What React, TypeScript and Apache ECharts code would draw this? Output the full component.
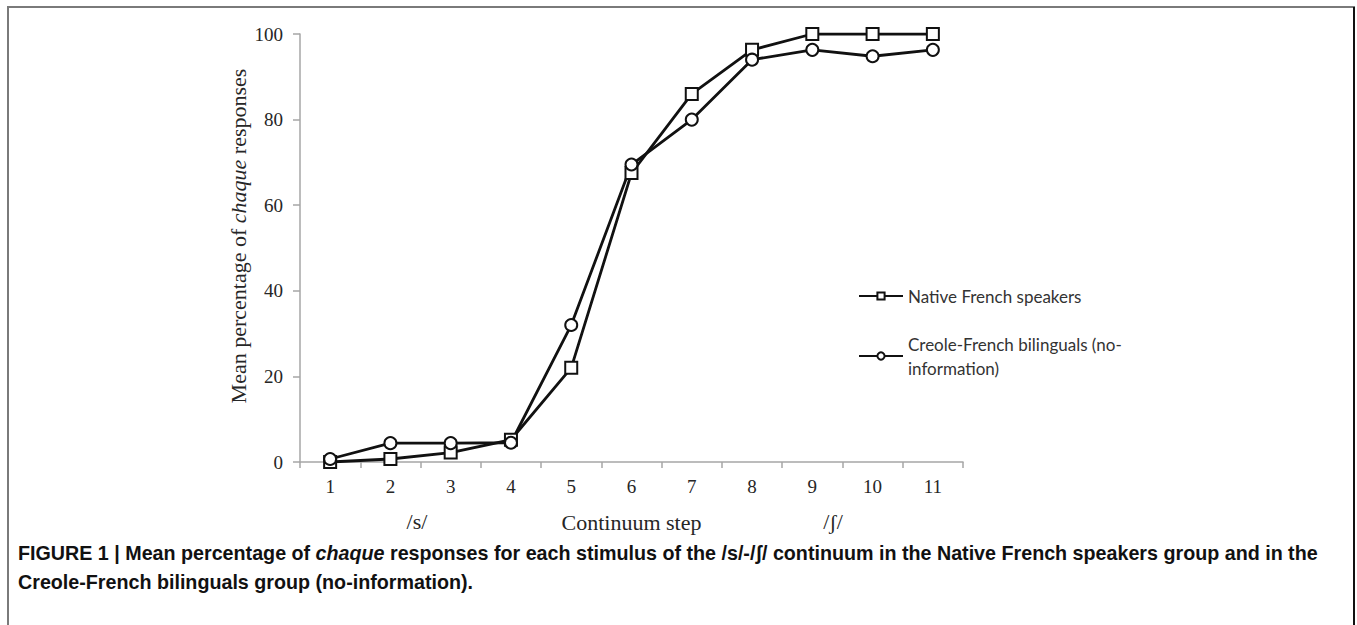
import React, { useEffect, useRef } from "react";
import * as echarts from "echarts";

const steps = ["1", "2", "3", "4", "5", "6", "7", "8", "9", "10", "11"];
const nativeFrench = [0, 0.7, 2.2, 5.2, 22, 67.5, 86, 96.3, 100, 100, 100];
const creoleFrench = [0.7, 4.4, 4.4, 4.5, 32, 69.5, 80, 94, 96.3, 94.8, 96.3];
const nativeName = "Native French speakers";
const creoleName = "Creole-French bilinguals (no-information)";

export default function App() {
  const ref = useRef<HTMLDivElement>(null);
  useEffect(() => {
    if (!ref.current) return;
    const chart = echarts.init(ref.current, undefined, { renderer: "svg" });
    const serif = "'Liberation Serif', 'Times New Roman', serif";
    const txt = "#262626";
    chart.setOption({
      animation: false,
      backgroundColor: "#ffffff",
      grid: { left: 300, right: 394, top: 34, bottom: 163, containLabel: false },
      legend: {
        orient: "vertical",
        left: 853,
        top: 279,
        itemWidth: 44,
        itemHeight: 9,
        itemGap: 12,
        textStyle: { fontFamily: "Lato, 'Open Sans', sans-serif", fontSize: 17, color: "#333", lineHeight: 24 },
        formatter: (n: string) => (n === creoleName ? "Creole-French bilinguals (no-\ninformation)" : n),
        data: [
          { name: nativeName },
          { name: creoleName, textStyle: { padding: [24, 0, 0, 0] } },
        ],
      },
      xAxis: {
        type: "category",
        data: steps,
        boundaryGap: true,
        axisLine: { lineStyle: { color: "#a6a6a6", width: 1.5 } },
        axisTick: { show: true, length: 6, lineStyle: { color: "#a6a6a6", width: 1.5 } },
        axisLabel: { fontFamily: serif, fontSize: 19, color: txt, margin: 15 },
        name: "Continuum step",
        nameLocation: "middle",
        nameGap: 49,
        nameTextStyle: { fontFamily: serif, fontSize: 22, color: txt },
      },
      yAxis: {
        type: "value",
        min: 0,
        max: 100,
        interval: 20,
        splitLine: { show: false },
        axisLine: { show: true, lineStyle: { color: "#a6a6a6", width: 1.5 } },
        axisTick: { show: true, length: 7, lineStyle: { color: "#a6a6a6", width: 1.5 } },
        axisLabel: { fontFamily: serif, fontSize: 19, color: txt, margin: 17 },
      },
      series: [
        {
          name: nativeName,
          type: "line",
          data: nativeFrench,
          symbol: "emptyRect",
          symbolSize: 12,
          lineStyle: { color: "#111", width: 2.8 },
          itemStyle: { color: "#111", borderColor: "#111", borderWidth: 1.5 },
          z: 3,
        },
        {
          name: creoleName,
          type: "line",
          data: creoleFrench,
          symbol: "emptyCircle",
          symbolSize: 12,
          lineStyle: { color: "#111", width: 2.8 },
          itemStyle: { color: "#111", borderColor: "#111", borderWidth: 1.5 },
          z: 3,
        },
      ],
      graphic: [
        {
          type: "rect",
          shape: { x: 8, y: 7, width: 1346, height: 640 },
          style: { fill: "none", stroke: "#7a7a7a", lineWidth: 2 },
          silent: true,
        },
        {
          type: "line",
          shape: { x1: 1354, y1: 7, x2: 1354, y2: 625 },
          style: { stroke: "#111", lineWidth: 2 },
          silent: true,
        },
        {
          type: "text",
          x: 238,
          y: 236,
          rotation: Math.PI / 2,
          style: {
            text: "{n|Mean percentage of }{i|chaque}{n| responses}",
            textAlign: "center",
            textVerticalAlign: "middle",
            rich: {
              n: { fontFamily: serif, fontSize: 22, fill: txt },
              i: { fontFamily: serif, fontSize: 22, fill: txt, fontStyle: "italic" },
            },
          },
        },
        {
          type: "text",
          x: 417,
          y: 521,
          style: { text: "/s/", font: "22px 'Liberation Serif', serif", fill: txt, textAlign: "center", textVerticalAlign: "middle" },
        },
        {
          type: "text",
          x: 833,
          y: 521,
          style: { text: "/ʃ/", font: "22px 'Liberation Serif', serif", fill: txt, textAlign: "center", textVerticalAlign: "middle" },
        },
        {
          type: "text",
          x: 18,
          y: 553,
          style: {
            text: "{b|FIGURE 1 | Mean percentage of }{bi|chaque}{b| responses for each stimulus of the /s/-/ʃ/ continuum in the Native French speakers group and in the}",
            textVerticalAlign: "middle",
            rich: {
              b: { fontFamily: "'Liberation Sans', Arial, sans-serif", fontWeight: "bold", fontSize: 19.7, fill: "#111" },
              bi: { fontFamily: "'Liberation Sans', Arial, sans-serif", fontWeight: "bold", fontStyle: "italic", fontSize: 19.7, fill: "#111" },
            },
          },
        },
        {
          type: "text",
          x: 18,
          y: 582,
          style: {
            text: "Creole-French bilinguals group (no-information).",
            font: "bold 19.7px 'Liberation Sans', Arial, sans-serif",
            fill: "#111",
            textVerticalAlign: "middle",
          },
        },
      ],
    });
    return () => chart.dispose();
  }, []);
  return <div ref={ref} style={{ position: "fixed", left: 0, top: 0, width: 1357, height: 625 }} />;
}
